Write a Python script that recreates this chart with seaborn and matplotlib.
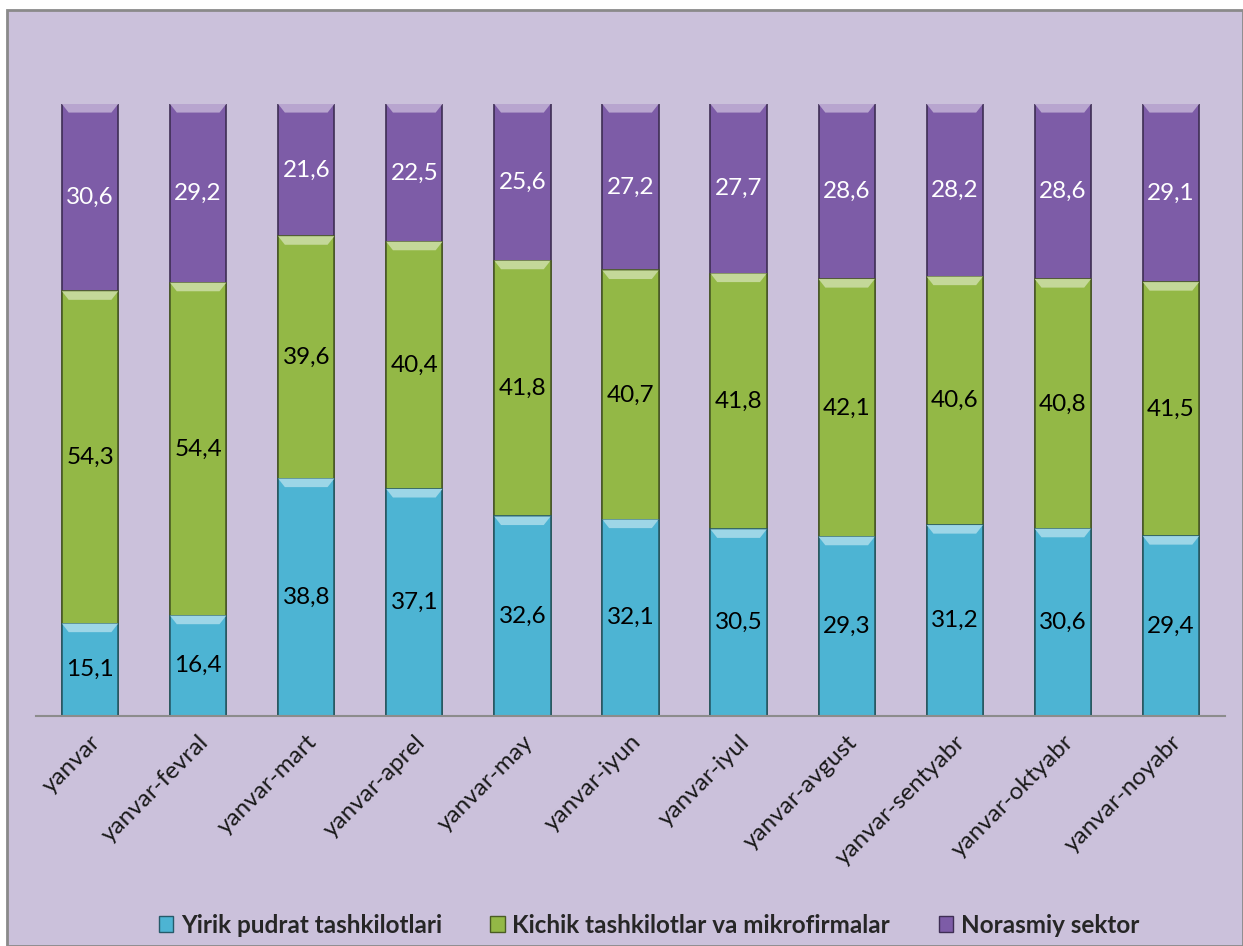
import numpy as np
import pandas as pd
import matplotlib
matplotlib.use("Agg")
import matplotlib.pyplot as plt
from matplotlib.patches import Rectangle, Patch, Polygon
import matplotlib.colors as mcolors
import seaborn as sns

categories = ["yanvar", "yanvar-fevral", "yanvar-mart", "yanvar-aprel", "yanvar-may",
              "yanvar-iyun", "yanvar-iyul", "yanvar-avgust", "yanvar-sentyabr",
              "yanvar-oktyabr", "yanvar-noyabr"]
yirik = [15.1, 16.4, 38.8, 37.1, 32.6, 32.1, 30.5, 29.3, 31.2, 30.6, 29.4]
kichik = [54.3, 54.4, 39.6, 40.4, 41.8, 40.7, 41.8, 42.1, 40.6, 40.8, 41.5]
norasmiy = [30.6, 29.2, 21.6, 22.5, 25.6, 27.2, 27.7, 28.6, 28.2, 28.6, 29.1]
series_names = ["Yirik pudrat tashkilotlari", "Kichik tashkilotlar va mikrofirmalar", "Norasmiy sektor"]
colors = ["#4DB4D3", "#93B846", "#7D5CA7"]

sns.set_theme(style="white")
plt.rcParams['font.family'] = ['Lato', 'DejaVu Sans']

df = pd.DataFrame({"cat": categories, "s1": yirik, "s2": kichik, "s3": norasmiy})
df["c1"] = df["s1"]
df["c2"] = df["s1"] + df["s2"]
df["c3"] = df["c2"] + df["s3"]

fig = plt.figure(figsize=(12.43, 9.46), dpi=100)
fig.patch.set_facecolor("white")
bg = Rectangle((7 / 1243, 0), 1 - 7 / 1243, 1 - 10 / 946, transform=fig.transFigure,
               facecolor="#CBC1DB", edgecolor="#8A8A8A", linewidth=2, zorder=-5)
fig.patches.append(bg)

ax = fig.add_axes([36 / 1243, 1 - 716 / 946, (1225 - 36) / 1243, (716 - 104) / 946])
ax.set_facecolor("none")
ax.set_zorder(2)

bar_width = 0.52
for col, color in zip(["c3", "c2", "c1"], colors[::-1]):
    sns.barplot(data=df, x="cat", y=col, color=color, width=bar_width, ax=ax,
                saturation=1, edgecolor=mcolors.to_hex(np.array(mcolors.to_rgb(color)) * 0.5),
                linewidth=1.2, zorder=2)

# bevel highlights on top of each segment
for p, color in zip(list(ax.patches), [colors[2]] * 11 + [colors[1]] * 11 + [colors[0]] * 11):
    x0 = p.get_x(); w = p.get_width(); top = p.get_y() + p.get_height()
    light = np.array(mcolors.to_rgb(color))
    light = light + (1 - light) * 0.45
    d = 1.4
    poly = Polygon([[x0, top], [x0 + w, top], [x0 + w - w * 0.12, top - d], [x0 + w * 0.12, top - d]],
                   closed=True, facecolor=light, edgecolor="none", zorder=3)
    ax.add_patch(poly)

ax.set_ylim(0, 100)
ax.set_xlim(-0.5, len(categories) - 0.5)
ax.set_xlabel("")
ax.set_ylabel("")
ax.set_yticks([])
for s in ["top", "right", "left"]:
    ax.spines[s].set_visible(False)
ax.spines["bottom"].set_color("#8C8C8C")
ax.spines["bottom"].set_linewidth(1.5)
ax.tick_params(axis="x", length=0, pad=11)
ax.set_xticks(range(len(categories)))
ax.set_xticklabels(categories, rotation=45, ha="right", rotation_mode="anchor",
                   fontsize=17.5, color="#1A1A1A")

for i in range(len(categories)):
    vals = [yirik[i], kichik[i], norasmiy[i]]
    bottom = 0
    for j, v in enumerate(vals):
        ax.text(i, bottom + v / 2, f"{v:.1f}".replace(".", ","), ha="center", va="center",
                fontsize=17.5, color="white" if j == 2 else "black", zorder=5)
        bottom += v

handles = [Patch(facecolor=c, edgecolor=mcolors.to_hex(np.array(mcolors.to_rgb(c)) * 0.5)) for c in colors]
fig.legend(handles, series_names, loc="center", bbox_to_anchor=(0.522, 0.022), ncol=3,
           frameon=False, prop={"weight": "bold", "size": 17.5}, handlelength=0.6,
           handleheight=0.6, handletextpad=0.3, columnspacing=2.0)

fig.savefig("out.png", dpi=100)
